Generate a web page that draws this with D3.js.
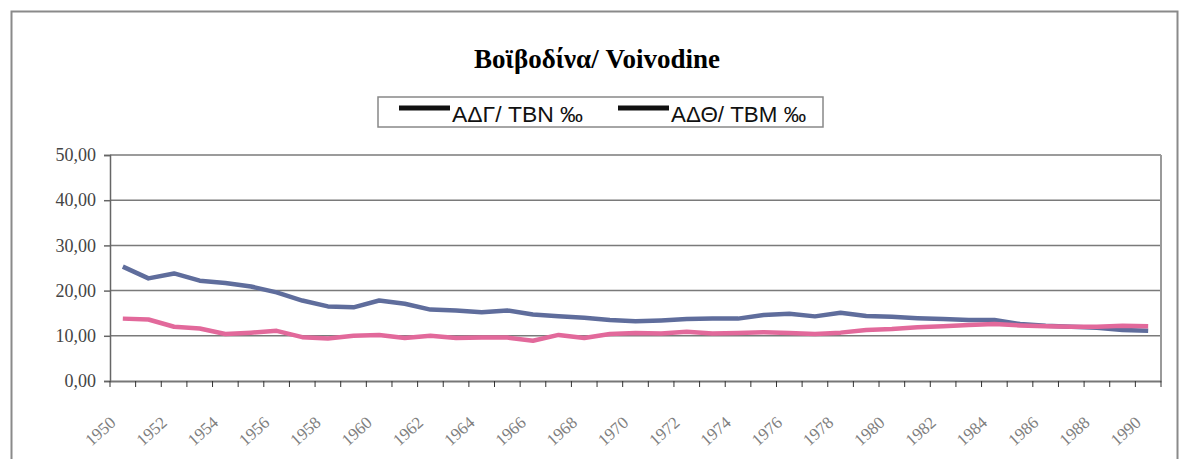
<!DOCTYPE html>
<html>
<head>
<meta charset="utf-8">
<script src="https://cdn.jsdelivr.net/npm/d3@7"></script>
<style>
body { margin: 0; background: #fff; }
</style>
</head>
<body>
<div id="chart"></div>
<script>
var years = d3.range(1950, 1991);
var births = [25.3, 22.7, 23.8, 22.2, 21.7, 20.9, 19.6, 17.8, 16.5, 16.3,
              17.8, 17.1, 15.8, 15.6, 15.2, 15.6, 14.7, 14.3, 14.0, 13.5,
              13.2, 13.4, 13.7, 13.8, 13.8, 14.6, 14.9, 14.3, 15.1, 14.4,
              14.2, 13.9, 13.7, 13.5, 13.5, 12.6, 12.2, 12.0, 11.8, 11.3, 11.1];
var deaths = [13.8, 13.6, 12.0, 11.6, 10.4, 10.7, 11.1, 9.7, 9.4, 10.0,
              10.2, 9.5, 10.0, 9.5, 9.6, 9.6, 8.9, 10.2, 9.5, 10.4,
              10.6, 10.5, 10.9, 10.5, 10.6, 10.8, 10.6, 10.4, 10.7, 11.3,
              11.5, 11.9, 12.1, 12.4, 12.6, 12.3, 12.1, 12.0, 12.0, 12.2, 12.1];
var seriesNames = ["ΑΔΓ/ TBN ‰", "ΑΔΘ/ TBM ‰"];
var seriesColors = ["#5f6d9c", "#e2699b"];
var yTicks = [0, 10, 20, 30, 40, 50];

var W = 1181, H = 459;
var pLeft = 110, pRight = 1161, pTop = 155, pBottom = 381;

var svg = d3.select("#chart").append("svg")
    .attr("width", W).attr("height", H);

// outer frame
svg.append("rect").attr("x", 11.5).attr("y", 11.5)
    .attr("width", 1166).attr("height", 470)
    .attr("fill", "none").attr("stroke", "#8a8a8a").attr("stroke-width", 2);

var x = d3.scaleBand().domain(years).range([pLeft, pRight]);
var y = d3.scaleLinear().domain([0, 50]).range([pBottom, pTop]);

// grid
svg.append("g").selectAll("line").data(yTicks.filter(function(d){ return d > 0; }))
  .enter().append("line")
    .attr("x1", pLeft).attr("x2", pRight)
    .attr("y1", function(d){ return y(d); }).attr("y2", function(d){ return y(d); })
    .attr("stroke", "#7a7a7a").attr("stroke-width", 1.5);

// right edge of plot
svg.append("line").attr("x1", pRight).attr("x2", pRight).attr("y1", pTop).attr("y2", pBottom)
    .attr("stroke", "#9a9a9a").attr("stroke-width", 2);

// y axis
var yAxis = svg.append("g").attr("transform", "translate(" + pLeft + ",0)")
    .call(d3.axisLeft(y).tickValues(yTicks).tickSize(6).tickPadding(8)
        .tickFormat(function(d){ return d3.format(".2f")(d).replace(".", ","); }));
yAxis.select(".domain").attr("stroke", "#666").attr("stroke-width", 1.5);
yAxis.selectAll(".tick line").attr("stroke", "#666").attr("stroke-width", 1.5);
yAxis.selectAll("text").attr("font-family", "'Liberation Serif', 'Times New Roman', serif")
    .attr("font-size", 18).attr("fill", "#444");

// x axis
var xAxis = svg.append("g").attr("transform", "translate(0," + pBottom + ")")
    .call(d3.axisBottom(x).tickSize(0).tickFormat(""));
xAxis.select(".domain").attr("stroke", "#777").attr("stroke-width", 2);
svg.append("g").selectAll("line").data(years.concat([1991]))
  .enter().append("line")
    .attr("x1", function(d, i){ return pLeft + i * x.step(); })
    .attr("x2", function(d, i){ return pLeft + i * x.step(); })
    .attr("y1", pBottom).attr("y2", pBottom + 6)
    .attr("stroke", "#333").attr("stroke-width", 1);

svg.append("g").selectAll("text").data(years.filter(function(d){ return d % 2 === 0; }))
  .enter().append("text")
    .attr("transform", function(d){
        return "translate(" + (x(d) + x.bandwidth() / 2 - 6) + "," + (pBottom + 43) + ") rotate(-42)";
    })
    .attr("text-anchor", "end")
    .attr("font-family", "'Liberation Serif', 'Times New Roman', serif")
    .attr("font-size", 17).attr("fill", "#808080")
    .text(function(d){ return d; });

// lines
var line = d3.line()
    .x(function(d, i){ return x(years[i]) + x.bandwidth() / 2; })
    .y(function(d){ return y(d); });

[births, deaths].forEach(function(s, i){
    svg.append("path").datum(s)
        .attr("d", line)
        .attr("fill", "none")
        .attr("stroke", seriesColors[i])
        .attr("stroke-width", 4.5)
        .attr("stroke-linejoin", "round");
});

// title
svg.append("text").attr("x", 597).attr("y", 68)
    .attr("text-anchor", "middle")
    .attr("font-family", "'Liberation Serif', 'Times New Roman', serif")
    .attr("font-weight", "bold").attr("font-size", 27)
    .text("Βοϊβοδίνα/ Voivodine");

// legend
var lg = svg.append("g");
lg.append("rect").attr("x", 378).attr("y", 97).attr("width", 445).attr("height", 30)
    .attr("fill", "#fff").attr("stroke", "#888").attr("stroke-width", 1.5);
var lx = [399, 618];
var lw = [131, 135];
seriesNames.forEach(function(n, i){
    lg.append("line").attr("x1", lx[i]).attr("x2", lx[i] + 51)
        .attr("y1", 108).attr("y2", 108)
        .attr("stroke", "#111").attr("stroke-width", 5);
    lg.append("text").attr("x", lx[i] + 53).attr("y", 122)
        .attr("font-family", "'Liberation Sans Narrow', 'Arial Narrow', 'Liberation Sans', sans-serif")
        .attr("font-size", 22).attr("fill", "#111")
        .attr("textLength", lw[i]).attr("lengthAdjust", "spacingAndGlyphs")
        .text(n);
});
</script>
</body>
</html>
